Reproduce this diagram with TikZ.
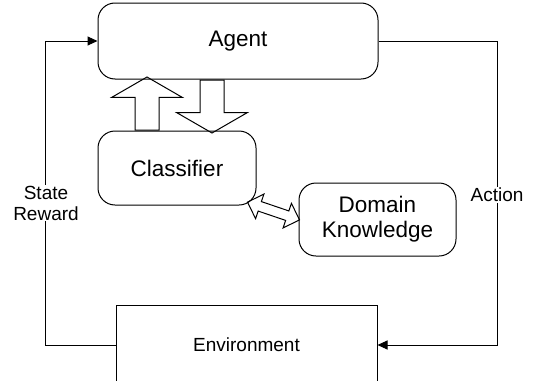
\documentclass[tikz,border=0pt]{standalone}
\usepackage{fontspec}
\setmainfont{Liberation Sans}
\usetikzlibrary{positioning, shapes, arrows.meta}
\tikzset{
  block/.style={draw=black, rounded corners=17pt, align=center, font=\fontsize{22.5}{25}\selectfont},
  flow/.style={-{Triangle[length=10pt,width=9pt]}},
  bigarrow/.style={single arrow, draw, minimum height=53pt, minimum width=70pt, inner sep=11.5pt,
    single arrow head extend=23.5pt, single arrow tip angle=120, sloped, allow upside down, anchor=tail},
  link/.style={double arrow, draw, minimum height=55pt, minimum width=25pt, inner sep=4.5pt,
    double arrow head extend=8pt, sloped},
  lbl/.style={fill=white, align=center, inner sep=1pt, font=\fontsize{19}{21}\selectfont}
}

\begin{document}
\begin{tikzpicture}[x=1pt, y=-1pt, line width=1pt]
  \useasboundingbox (0,0) rectangle (534,380);
  \clip (0,0) rectangle (534,380);

  \node[block, minimum width=280pt, minimum height=76pt] (agent) at (238,41) {Agent};
  \node[block, minimum width=158pt, minimum height=74pt] (clf) at (177,168) {Classifier};
  \node[block, minimum width=157pt, minimum height=73pt] (dk) at (377.5,219.5) {Domain\\Knowledge};
  \node[draw, minimum width=261pt, minimum height=80pt, font=\fontsize{19}{21}\selectfont] (env) at (246.5,345) {Environment};

  % loop between agent and environment
  \draw[flow] (env.west) -| ([xshift=-52pt]agent.west) -- (agent.west);
  \draw[flow] (agent.east) -| ([xshift=120pt]env.east) -- (env.east);
  \node[lbl] (sr) at (46,203) {State\\Reward};
  \node[lbl] (act) at (497,195) {Action};

  % agent <-> classifier <-> domain knowledge
  \coordinate (upfoot) at ([xshift=-30pt]clf.north);
  \coordinate (downfoot) at ([xshift=35pt]clf.north);
  \path (upfoot) -- (upfoot |- agent.south) node[bigarrow, pos=0] (up) {};
  \path (downfoot |- agent.south) -- (downfoot) node[bigarrow, pos=0] (down) {};
  \path ([shift={(-8pt,3pt)}]clf.south east) -- (dk.west) node[link, midway] (swap) {};
\end{tikzpicture}
\end{document}
